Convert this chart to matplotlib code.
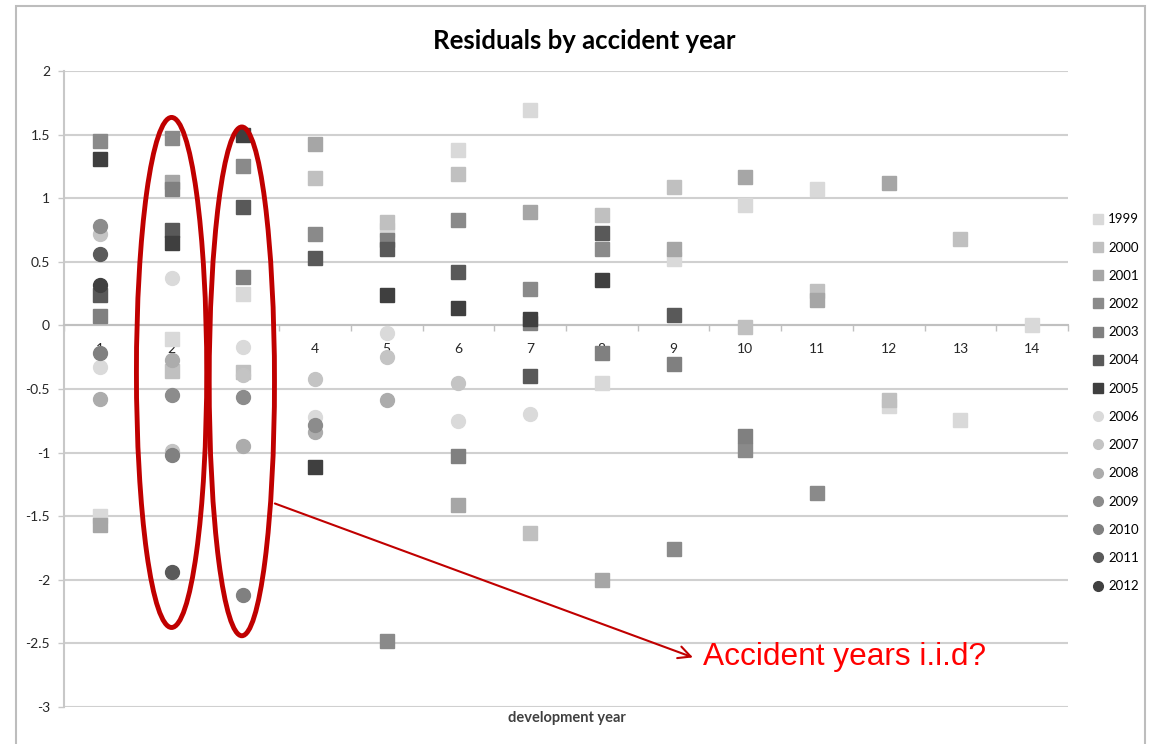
import matplotlib.pyplot as plt
import numpy as np
from matplotlib.patches import Ellipse, Rectangle
from matplotlib.lines import Line2D

nan = np.nan

# residuals per accident year, indexed by development year 1..n
years = [1999, 2000, 2001, 2002, 2003, 2004, 2005,
         2006, 2007, 2008, 2009, 2010, 2011, 2012]
residuals = {
    1999: [-1.50, -0.11, 0.25, nan, 0.75, 1.38, 1.69, -0.45, 0.52, 0.95, 1.07, -0.63, -0.74, 0.00],
    2000: [nan, -0.36, -0.37, 1.16, 0.81, 1.19, -1.63, 0.87, 1.09, -0.01, 0.27, -0.59, 0.68],
    2001: [-1.57, 1.13, nan, 1.43, nan, -1.41, 0.89, -2.00, 0.60, 1.17, 0.20, 1.12],
    2002: [1.45, 1.47, 1.25, 0.72, -2.48, 0.83, 0.29, 0.60, -1.76, -0.98, -1.32],
    2003: [0.07, 1.07, 0.38, nan, 0.67, -1.03, 0.02, -0.22, -0.30, -0.87],
    2004: [0.24, 0.75, 0.93, 0.53, 0.60, 0.42, -0.40, 0.73, 0.08],
    2005: [1.31, 0.65, 1.50, -1.11, 0.24, 0.14, 0.05, 0.36],
    2006: [-0.33, 0.37, -0.17, -0.72, -0.06, -0.75, -0.70],
    2007: [0.72, -0.99, -0.39, -0.42, -0.25, -0.45],
    2008: [-0.58, -0.27, -0.95, -0.84, -0.59],
    2009: [0.78, -0.55, -0.56, -0.78],
    2010: [-0.22, -1.02, -2.12],
    2011: [0.56, -1.94],
    2012: [0.32],
}
colors = ['#d9d9d9', '#c0c0c0', '#a6a6a6', '#8a8a8a', '#808080', '#595959', '#3f3f3f',
          '#dadada', '#c4c4c4', '#acacac', '#8c8c8c', '#808080', '#5a5a5a', '#404040']
dev_years = list(range(1, 15))

plt.rcParams['font.family'] = ['Lato', 'DejaVu Sans']

fig = plt.figure(figsize=(11.49, 7.44), dpi=100)
ax = fig.add_axes([64 / 1149, 37 / 744, 1004 / 1149, 636 / 744])

handles = []
for i, yr in enumerate(years):
    vals = residuals[yr]
    xs = np.arange(1, len(vals) + 1)
    marker = 's' if yr <= 2005 else 'o'
    ax.plot(xs, vals, linestyle='none', marker=marker, ms=10,
            color=colors[i], mec=colors[i], zorder=3, clip_on=False)
    handles.append(Line2D([], [], linestyle='none', marker=marker, ms=7,
                          color=colors[i], label=str(yr)))

ax.set_xlim(0.5, 14.5)
ax.set_ylim(-3, 2)
ax.set_yticks(np.arange(-3, 2.01, 0.5))
ax.set_yticklabels(['-3', '-2.5', '-2', '-1.5', '-1', '-0.5', '0', '0.5', '1', '1.5', '2'])
ax.grid(axis='y', color='#d0d0d0', lw=1.5)
ax.set_axisbelow(True)

for s in ['top', 'right']:
    ax.spines[s].set_visible(False)
ax.spines['left'].set_color('#c8c8c8')
ax.spines['left'].set_linewidth(1.5)
ax.spines['bottom'].set_position(('data', 0))
ax.spines['bottom'].set_color('#c0c0c0')
ax.spines['bottom'].set_linewidth(1.5)

ax.set_xticks(dev_years)
ax.set_xticklabels([str(d) for d in dev_years])
ax.set_xticks(np.arange(0.5, 14.6, 1), minor=True)
ax.tick_params(axis='x', which='major', length=0, pad=13, labelsize=10, labelcolor='#262626')
ax.tick_params(axis='x', which='minor', length=4, color='#c0c0c0', width=1)
ax.tick_params(axis='y', length=4, color='#c8c8c8', width=1, pad=6, labelsize=10,
               labelcolor='#262626')

ax.set_title('Residuals by accident year', fontsize=18.5, fontweight='bold', pad=16, x=0.518)
fig.text(567 / 1149, 1 - 718 / 744, 'development year', ha='center', va='center',
         fontsize=10.5, fontweight='bold', color='#404040')

# red ellipses around development years 2 and 3
ax.add_patch(Ellipse((2.0, -0.37), 0.98, 4.01, fill=False, ec='#c00000', lw=3.5,
                     zorder=4, clip_on=False))
ax.add_patch(Ellipse((2.98, -0.44), 0.91, 4.0, fill=False, ec='#c00000', lw=3.5,
                     zorder=4, clip_on=False))
ax.annotate('', xy=(9.27, -2.61), xytext=(3.44, -1.40),
            arrowprops=dict(arrowstyle='->', color='#c00000', lw=1.5, mutation_scale=22,
                            shrinkA=0, shrinkB=0), annotation_clip=False, zorder=5)
ax.text(9.41, -2.61, 'Accident years i.i.d?', color='#ff0000', fontsize=22.8,
        family=['Liberation Sans', 'DejaVu Sans'], ha='left', va='center', zorder=5)

fig.legend(handles=handles, loc='upper left', bbox_to_anchor=(1087 / 1149, 1 - 208 / 744),
           frameon=False, fontsize=9.5, labelspacing=1.23, handlelength=0.8,
           handletextpad=0.4, borderaxespad=0)

# chart border
fig.patches.append(Rectangle((16 / 1149, -0.05), 1129 / 1149, 1.05 - 6 / 744,
                             transform=fig.transFigure, fill=False, ec='#bdbdbd', lw=1.5))

fig.savefig('out.png', dpi=100)
